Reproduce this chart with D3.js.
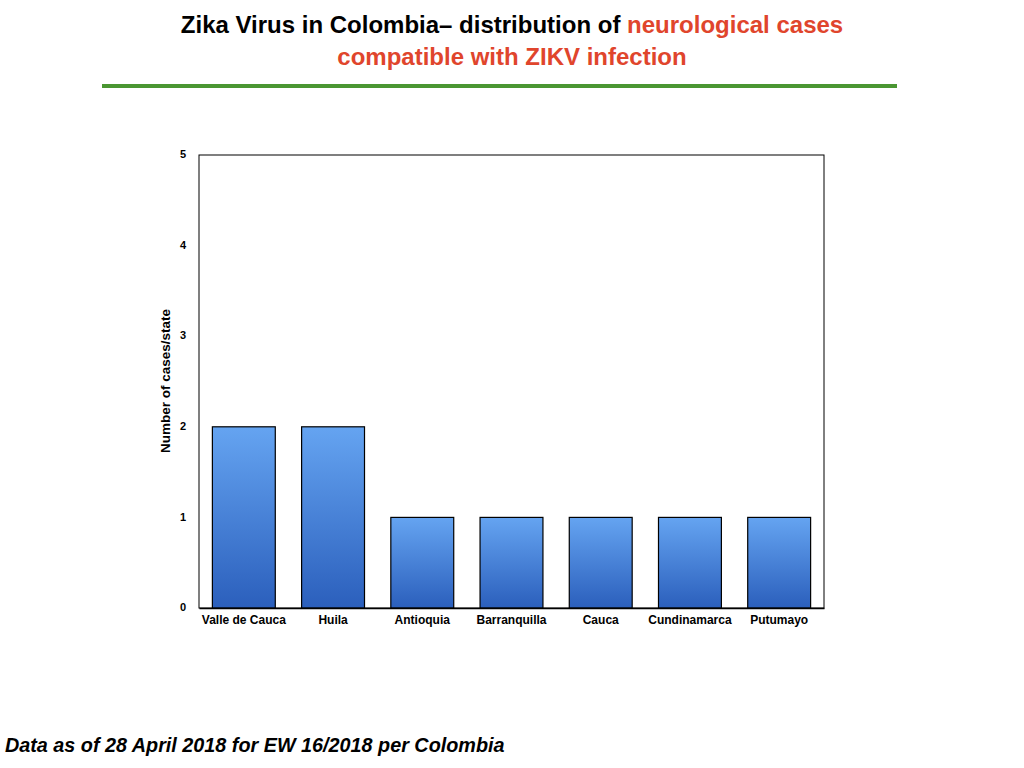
<!DOCTYPE html>
<html>
<head>
<meta charset="utf-8">
<script src="https://cdn.jsdelivr.net/npm/d3@7"></script>
<style>
  body { margin: 0; background: #fff; }
  svg { display: block; font-family: "Liberation Sans", Arial, Helvetica, sans-serif; }
  .axis text { font-size: 12px; font-weight: bold; fill: #000; }
</style>
</head>
<body>
<svg id="chart"></svg>
<script>
// data
const states = ['Valle de Cauca', 'Huila', 'Antioquia', 'Barranquilla', 'Cauca', 'Cundinamarca', 'Putumayo'];
const cases = [2, 2, 1, 1, 1, 1, 1];
const yTicks = [0, 1, 2, 3, 4, 5];

const data = states.map((s, i) => ({ x: s, y: cases[i] }));

const W = 1024, H = 768;
const margin = { top: 155, left: 199, right: 200, bottom: 160 };
const width = W - margin.left - margin.right;
const height = H - margin.top - margin.bottom;

const svg = d3.select('#chart').attr('width', W).attr('height', H);

// title
const title = svg.append('text')
    .attr('x', 512).attr('y', 33)
    .attr('text-anchor', 'middle')
    .style('font-size', '24px').style('font-weight', 'bold');
title.append('tspan').attr('fill', '#000').text('Zika Virus in Colombia\u2013  distribution of ');
title.append('tspan').attr('fill', '#e0452c').text('neurological cases');

svg.append('text')
    .attr('x', 512).attr('y', 65)
    .attr('text-anchor', 'middle')
    .attr('fill', '#e0452c')
    .style('font-size', '24px').style('font-weight', 'bold')
    .text('compatible with ZIKV infection');

svg.append('line')
    .attr('x1', 102).attr('x2', 897)
    .attr('y1', 86).attr('y2', 86)
    .attr('stroke', '#4a9632').attr('stroke-width', 4);

// gradient for bars
const grad = svg.append('defs').append('linearGradient')
    .attr('id', 'barGrad').attr('x1', 0).attr('x2', 0).attr('y1', 0).attr('y2', 1);
grad.append('stop').attr('offset', '0%').attr('stop-color', '#65a4f1');
grad.append('stop').attr('offset', '100%').attr('stop-color', '#2b5fbc');

const chart = svg.append('g')
    .attr('transform', `translate(${margin.left},${margin.top})`);

const xScale = d3.scaleBand()
    .domain(states)
    .range([0, width])
    .paddingInner(0.295)
    .paddingOuter(0.15);

const yScale = d3.scaleLinear()
    .domain([0, 5])
    .range([height, 0]);

// frame
chart.append('rect')
    .attr('width', width).attr('height', height)
    .attr('fill', 'none').attr('stroke', '#000').attr('stroke-width', 1);

chart.selectAll('.bar')
    .data(data)
    .enter()
    .append('rect')
    .attr('class', 'bar')
    .attr('fill', 'url(#barGrad)')
    .attr('stroke', '#000')
    .attr('stroke-width', 1.2)
    .attr('x', d => xScale(d.x))
    .attr('y', d => yScale(d.y))
    .attr('width', xScale.bandwidth())
    .attr('height', d => height - yScale(d.y));

const yAxisG = chart.append('g')
    .attr('class', 'axis y-axis')
    .call(d3.axisLeft(yScale).tickValues(yTicks).tickSize(0).tickPadding(13).tickFormat(d3.format('d')));
yAxisG.select('.domain').remove();
yAxisG.selectAll('text').attr('dy', '0.25em').style('font-size', '11px');

const xAxisG = chart.append('g')
    .attr('class', 'axis x-axis')
    .attr('transform', `translate(0,${height})`)
    .call(d3.axisBottom(xScale).tickSize(0).tickPadding(7));
xAxisG.select('.domain').attr('stroke-width', 1.5);

// y label
svg.append('text')
    .attr('transform', 'translate(170,381) rotate(-90)')
    .attr('text-anchor', 'middle')
    .style('font-size', '13.5px').style('font-weight', 'bold')
    .text('Number of cases/state');

// footer
svg.append('text')
    .attr('x', 5).attr('y', 752)
    .style('font-size', '19.8px').style('font-weight', 'bold').style('font-style', 'italic')
    .text('Data as of 28 April 2018 for EW 16/2018 per Colombia');
</script>
</body>
</html>
